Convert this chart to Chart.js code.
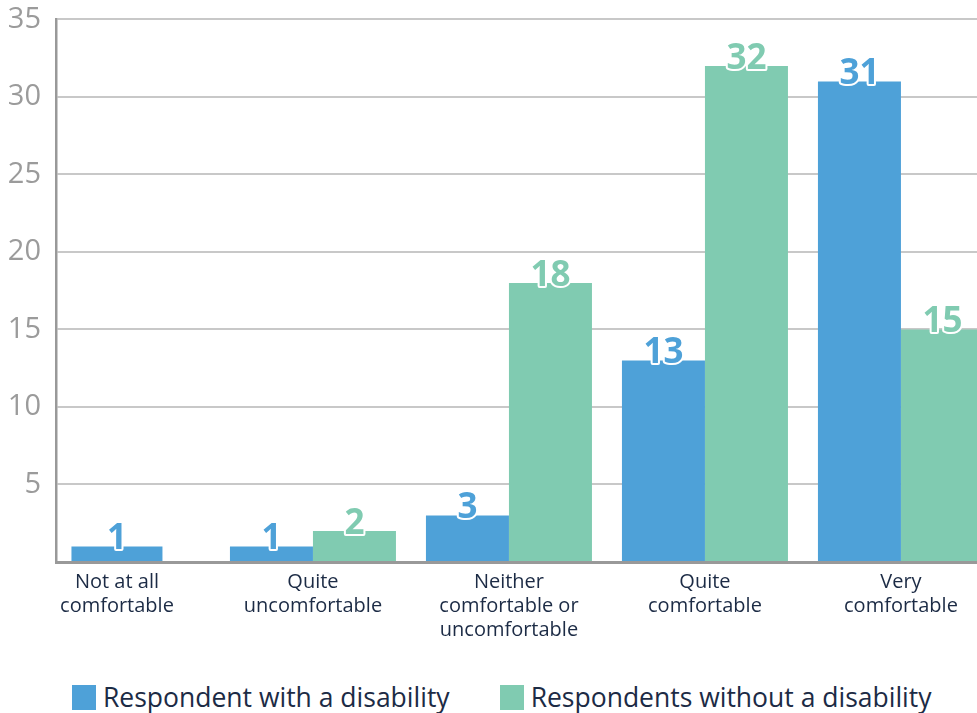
<!DOCTYPE html>
<html>
<head>
<meta charset="utf-8">
<script src="https://cdn.jsdelivr.net/npm/chart.js@4/dist/chart.umd.min.js"></script>
<style>
  html, body { margin: 0; padding: 0; background: #fff; }
  #wrap { width: 977px; height: 713px; overflow: hidden; }
  #comfortChart { display: block; }
  #legend {
    display: flex;
    align-items: flex-start;
    box-sizing: border-box;
    height: 71px;
    padding: 40px 0 0 72px;
    font-family: "Open Sans", sans-serif;
    font-size: 26.5px;
    color: #1c2b45;
  }
  #legend .item { display: flex; align-items: center; height: 30px; margin-right: 50px; white-space: nowrap; }
  #legend .swatch { width: 24px; height: 25px; margin-right: 7px; }
</style>
</head>
<body>
<div id="wrap">
  <canvas id="comfortChart" width="977" height="642"></canvas>
  <div id="legend"></div>
</div>
<script>
const CATEGORIES = [
  ['Not at all', 'comfortable'],
  ['Quite', 'uncomfortable'],
  ['Neither', 'comfortable or', 'uncomfortable'],
  ['Quite', 'comfortable'],
  ['Very', 'comfortable'],
];
const SERIES = ['Respondent with a disability', 'Respondents without a disability'];
const WITH_DISABILITY = [1, 1, 3, 13, 31];
const WITHOUT_DISABILITY = [null, 2, 18, 32, 15];

const BLUE = '#4ea1d8';
const GREEN = '#80cbb1';
const NAVY = '#1c2b45';

// category index -> {x, y} so the bars sit on a linear index axis
const toPoints = (values) => values.map((v, i) => ({ x: i, y: v }));

// bold value printed on top of each bar, white outline
const valueLabels = {
  id: 'valueLabels',
  afterDatasetsDraw(chart) {
    const ctx = chart.ctx;
    ctx.save();
    ctx.font = 'bold 35px "Open Sans"';
    ctx.textAlign = 'center';
    ctx.textBaseline = 'alphabetic';
    ctx.lineJoin = 'round';
    ctx.lineWidth = 4;
    ctx.strokeStyle = '#fff';
    chart.data.datasets.forEach((ds, i) => {
      chart.getDatasetMeta(i).data.forEach((bar, j) => {
        const v = ds.data[j].y;
        if (v == null) return;
        ctx.fillStyle = ds.backgroundColor;
        ctx.strokeText(String(v), bar.x, bar.y + 3);
        ctx.fillText(String(v), bar.x, bar.y + 3);
      });
    });
    ctx.restore();
  }
};

Chart.defaults.font.family = '"Open Sans", sans-serif';

const chart = new Chart(document.getElementById('comfortChart'), {
  type: 'bar',
  data: {
    datasets: [{
      label: SERIES[0],
      data: toPoints(WITH_DISABILITY),
      backgroundColor: BLUE,
      maxBarThickness: 91,
    }, {
      label: SERIES[1],
      data: toPoints(WITHOUT_DISABILITY),
      backgroundColor: GREEN,
    }]
  },
  options: {
    responsive: false,
    animation: false,
    skipNull: true,
    categoryPercentage: 0.847,
    barPercentage: 1,
    layout: { padding: 0 },
    plugins: {
      tooltip: { enabled: false },
      legend: { display: false },
    },
    scales: {
      x: {
        type: 'linear',
        min: -0.311,
        max: 4.388,
        bounds: 'data',
        offset: false,
        afterBuildTicks: (scale) => {
          scale.ticks = CATEGORIES.map((_, i) => ({ value: i }));
        },
        afterFit: (scale) => { scale.height = 80; },
        grid: { display: false, drawTicks: false },
        border: { display: true, color: '#999', width: 3 },
        ticks: {
          autoSkip: false,
          maxRotation: 0,
          padding: 8,
          color: NAVY,
          font: { size: 20, lineHeight: 1.2 },
          callback: (value) => CATEGORIES[value],
        }
      },
      y: {
        min: 0,
        max: 35,
        afterFit: (scale) => { scale.width = 56; },
        grid: {
          color: '#c8c8c8',
          lineWidth: 2,
          drawTicks: true,
          tickLength: 13,
          tickColor: 'rgba(0,0,0,0)',
        },
        border: { display: true, color: '#999', width: 2.5 },
        ticks: {
          stepSize: 5,
          padding: 2,
          color: '#9b9b9b',
          font: { size: 29 },
          callback: (value) => value === 0 ? '' : value,
        }
      }
    }
  },
  plugins: [valueLabels]
});

// legend row under the canvas, built from the datasets
const legendEl = document.getElementById('legend');
chart.data.datasets.forEach((ds) => {
  const item = document.createElement('div');
  item.className = 'item';
  const swatch = document.createElement('span');
  swatch.className = 'swatch';
  swatch.style.background = ds.backgroundColor;
  const text = document.createElement('span');
  text.textContent = ds.label;
  item.appendChild(swatch);
  item.appendChild(text);
  legendEl.appendChild(item);
});
</script>
</body>
</html>
